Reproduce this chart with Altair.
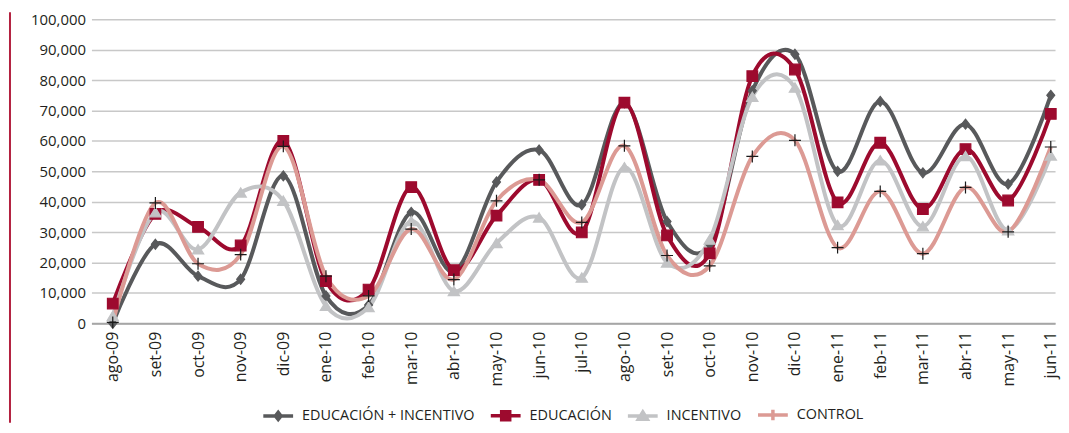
import altair as alt
import pandas as pd

months = ["ago-09", "set-09", "oct-09", "nov-09", "dic-09", "ene-10", "feb-10", "mar-10",
          "abr-10", "may-10", "jun-10", "jul-10", "ago-10", "set-10", "oct-10", "nov-10",
          "dic-10", "ene-11", "feb-11", "mar-11", "abr-11", "may-11", "jun-11"]
series = ["EDUCACIÓN + INCENTIVO", "EDUCACIÓN", "INCENTIVO", "CONTROL"]

edu_inc = [0, 26000, 15500, 14500, 48500, 9000, 6000, 36500, 17000, 46500, 57000, 39000,
           72500, 33500, 26000, 76500, 88500, 50000, 73000, 49500, 65500, 45800, 75000]
edu = [6500, 36000, 31700, 25600, 60000, 13900, 11100, 44800, 17500, 35400, 47200, 29900,
       72600, 28900, 23000, 81300, 83500, 39800, 59400, 37600, 57300, 40400, 68900]
inc = [2400, 36500, 24300, 43000, 40300, 5700, 5300, 33600, 10600, 26400, 34800, 15000,
       51300, 20000, 27500, 74500, 77500, 32300, 53600, 31900, 55000, 30600, 55200]
ctrl = [300, 39600, 19600, 22600, 58200, 15500, 9000, 31000, 14400, 40300, 47200, 33200,
        58400, 22300, 18900, 54900, 60200, 24900, 43400, 22900, 44700, 30100, 58000]
values_by_series = [edu_inc, edu, inc, ctrl]

line_colors = ["#58595b", "#9d0a2e", "#c2c3c5", "#dc9a94"]
marker_fill = ["#58595b", "#9d0a2e", "#c2c3c5", "transparent"]
marker_stroke = ["#58595b", "#9d0a2e", "#c2c3c5", "#1a1a1a"]
marker_shape = ["M0,-1L0.8,0L0,1L-0.8,0Z", "square", "M0,-0.85L1,0.8L-1,0.8Z", "M-1,0H1M0,-1V1"]
marker_size = [100, 144, 110, 150]
legend_shape = [
    "M-1,0H1M0,-0.24L0.19,0L0,0.24L-0.19,0Z",
    "M-1,0H1M-0.27,-0.27H0.27V0.27H-0.27Z",
    "M-1,0H1M0,-0.27L0.3,0.22L-0.3,0.22Z",
    "M-1,0H1M0,-0.35V0.35",
]

FONT = "Open Sans"
TXT = "#231f20"

rows = []
for s, vals in zip(series, values_by_series):
    for i, v in enumerate(vals):
        rows.append({"idx": i, "month": months[i], "series": s, "value": v})
df = pd.DataFrame(rows)

label_expr = "[" + ",".join("'" + m + "'" for m in months) + "][datum.value]"

X = alt.X("idx:Q",
          scale=alt.Scale(domain=[-0.5, 22.1], nice=False, zero=False),
          axis=alt.Axis(values=list(range(len(months))), labelExpr=label_expr, title=None,
                        grid=False, ticks=False, labelAngle=270, labelFontSize=16,
                        labelFont=FONT, labelColor=TXT, labelPadding=8, labelFlush=False,
                        labelOverlap=False, domainColor="#a6a6a6", domainWidth=2))
Y = alt.Y("value:Q",
          scale=alt.Scale(domain=[0, 100000], nice=False),
          axis=alt.Axis(values=list(range(0, 100001, 10000)), format=",.0f", title=None,
                        domain=False, ticks=False, gridColor="#c8c8c8", gridWidth=1.5,
                        labelFontSize=15, labelFont=FONT, labelColor=TXT, labelPadding=6))


def make_legend():
    return alt.Legend(
        title=None, orient="none", legendX=171, legendY=381, direction="horizontal",
        symbolSize=900, symbolStrokeWidth=3.5, labelFontSize=14.5, labelFont=FONT,
        labelColor=TXT, labelOffset=7, columnPadding=9, padding=0, labelLimit=400,
    )


color = alt.Color("series:N", scale=alt.Scale(domain=series, range=line_colors), legend=None)

base = alt.Chart(df)
layers = []
for s in series:
    layers.append(
        base.transform_filter(alt.datum.series == s)
        .mark_line(interpolate="cardinal", strokeWidth=4)
        .encode(x=X, y=Y, color=color)
    )

points = base.mark_point(opacity=1, strokeWidth=1.2).encode(
    x=X, y=Y,
    shape=alt.Shape("series:N", scale=alt.Scale(domain=series, range=marker_shape), legend=None),
    fill=alt.Fill("series:N", scale=alt.Scale(domain=series, range=marker_fill), legend=None),
    stroke=alt.Stroke("series:N", scale=alt.Scale(domain=series, range=marker_stroke), legend=None),
    size=alt.Size("series:N", scale=alt.Scale(domain=series, range=marker_size), legend=None),
)
layers.append(points)

legend_layer = base.transform_filter("false").mark_point(opacity=1, filled=True).encode(
    x=X, y=Y,
    shape=alt.Shape("series:N", scale=alt.Scale(domain=series, range=legend_shape), legend=make_legend()),
    fill=alt.Fill("series:N", scale=alt.Scale(domain=series, range=line_colors), legend=make_legend()),
    stroke=alt.Stroke("series:N", scale=alt.Scale(domain=series, range=line_colors), legend=make_legend()),
)
layers.append(legend_layer)

bar = alt.Chart(pd.DataFrame({"k": [0]})).mark_rule(color="#b3203f", strokeWidth=2).encode(
    x=alt.value(-82), y=alt.value(-7), y2=alt.value(406)
)
layers.append(bar)

chart = alt.layer(*layers).resolve_scale(
    shape="independent", fill="independent", stroke="independent"
).properties(
    width=970, height=306,
    padding={"left": 1, "top": 2, "right": 1, "bottom": 1},
).configure_view(stroke=None)

chart.save("out.html", embed_options={"renderer": "svg", "actions": False})
